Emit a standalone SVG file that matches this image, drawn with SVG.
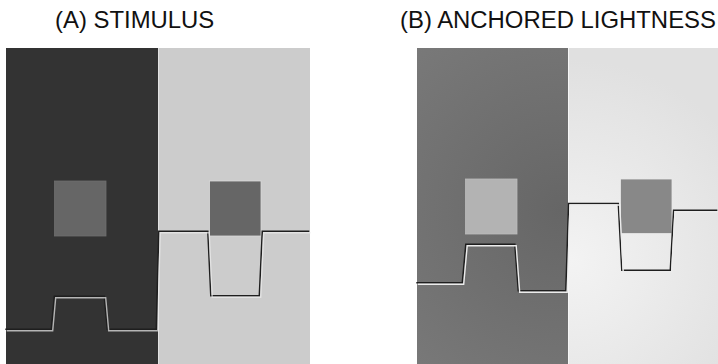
<svg xmlns="http://www.w3.org/2000/svg" width="718" height="364" viewBox="0 0 718 364">
  <style>
    .title { font-family: "Liberation Sans", Arial, sans-serif; font-size: 23.9px; fill: #111; }
    .edge-dark { fill: none; stroke: #1e1e1e; stroke-width: 1.5; stroke-linejoin: miter; }
    .edge-light { fill: none; stroke: #ececec; stroke-width: 1.4; stroke-linejoin: miter; }
    .seam { stroke: #e2e2e2; stroke-width: 1; }
  </style>
  <defs>
    <!-- shading of the anchored-lightness halves: darkest / brightest near the border -->
    <radialGradient id="shadeDark" gradientUnits="userSpaceOnUse" cx="560" cy="210" r="230">
      <stop offset="0" stop-color="#666666"/>
      <stop offset="1" stop-color="#7a7a7a"/>
    </radialGradient>
    <radialGradient id="shadeLight" gradientUnits="userSpaceOnUse" cx="572" cy="260" r="200">
      <stop offset="0" stop-color="#f3f3f3"/>
      <stop offset="1" stop-color="#e0e0e0"/>
    </radialGradient>
  </defs>

  <!-- titles -->
  <text class="title" x="55" y="28">(A) STIMULUS</text>
  <text class="title" x="400" y="28">(B) ANCHORED LIGHTNESS</text>

  <!-- panel A: stimulus -->
  <g id="panel-a">
    <rect x="6" y="48" width="152" height="316" fill="#333333"/>
    <rect x="158" y="48" width="152" height="316" fill="#cccccc"/>
    <line class="seam" x1="158.5" y1="48" x2="158.5" y2="364"/>
    <rect x="54.5" y="181" width="51.5" height="55" fill="#666666" stroke="#6e6e6e" stroke-width="0.8"/>
    <rect x="209.5" y="181" width="51.5" height="55" fill="#666666" stroke="#dadada" stroke-width="0.8"/>
    <g id="profile-a">
      <polyline class="edge-dark" transform="translate(-0.7,-0.7)" points="6,330 52,330 55,297 105,297 108,330 157,330 159.5,232 208.5,232 211.5,296.5 260,296.5 263,232 310,232"/>
      <polyline class="edge-light" transform="translate(0.7,0.7)" points="6,330 52,330 55,297 105,297 108,330 157,330 159.5,232 208.5,232 211.5,296.5 260,296.5 263,232 310,232" opacity="0.7"/>
    </g>
  </g>

  <!-- panel B: anchored lightness -->
  <g id="panel-b">
    <rect x="417" y="48" width="151" height="316" fill="url(#shadeDark)"/>
    <rect x="568" y="48" width="150" height="316" fill="url(#shadeLight)"/>
    <line x1="568.5" y1="48" x2="568.5" y2="364" stroke="#f6f6f6" stroke-width="1"/>
    <rect x="465.5" y="179" width="51.5" height="55" fill="#b3b3b3" stroke="#bcbcbc" stroke-width="0.8"/>
    <rect x="620.5" y="179" width="51.5" height="54.5" fill="#888888" stroke="#e8e8e8" stroke-width="0.8"/>
    <g id="profile-b">
      <polyline class="edge-dark" transform="translate(-0.7,-0.7)" points="417,283.5 463,283.5 466.5,245 515.5,245 519,291.5 566.5,291.5 569.3,204.3 619,204.3 622.5,271 671,271 674.3,211 718,211"/>
      <polyline class="edge-light" transform="translate(0.7,0.7)" points="417,283.5 463,283.5 466.5,245 515.5,245 519,291.5 566.5,291.5 569.3,204.3 619,204.3 622.5,271 671,271 674.3,211 718,211"/>
    </g>
  </g>
</svg>
